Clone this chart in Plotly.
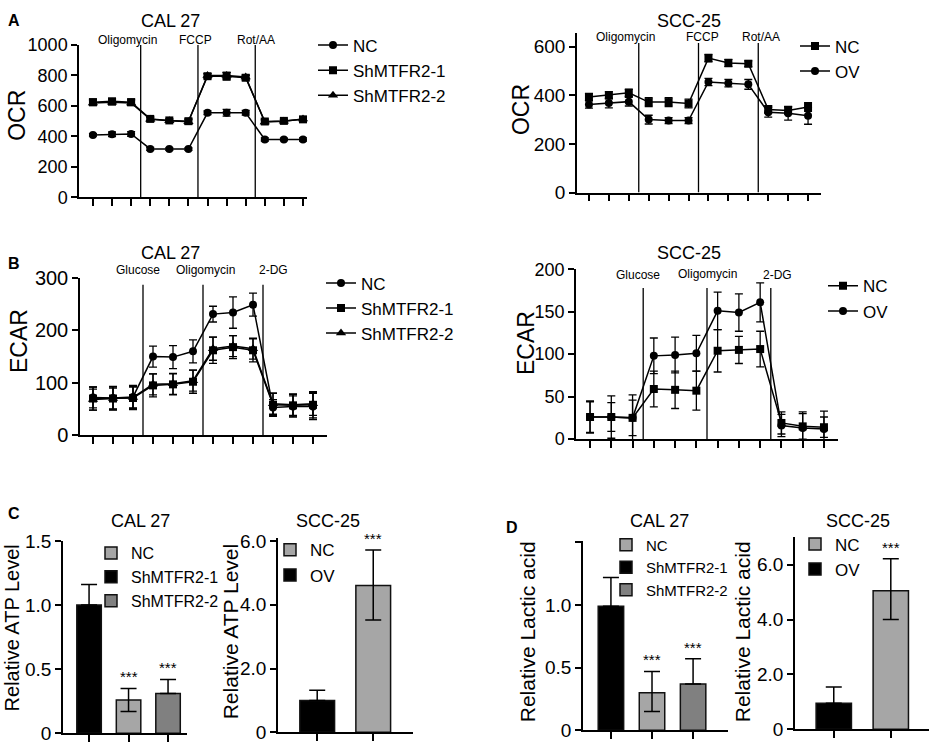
import plotly.graph_objects as go

W, H = 929, 752
FONT = "Arial, 'Liberation Sans', sans-serif"

# ---------------- data ----------------
timepoints = list(range(1, 13))
injections = [3.5, 6.5, 9.5]

ocr_cal_nc = [410, 414, 416, 318, 317, 317, 555, 555, 555, 380, 380, 380]
ocr_cal_nc_err = [8, 15, 15, 10, 8, 8, 12, 22, 15, 10, 8, 10]
ocr_cal_sh1 = [625, 630, 625, 515, 505, 500, 795, 795, 785, 498, 502, 512]
ocr_cal_sh1_err = [20, 20, 20, 15, 10, 15, 15, 25, 15, 15, 12, 15]
ocr_cal_sh2 = [620, 625, 620, 512, 503, 496, 800, 800, 790, 495, 500, 515]
ocr_cal_sh2_err = [18, 18, 18, 12, 10, 15, 12, 20, 12, 12, 10, 12]
ocr_cal_drugs = ["Oligomycin", "FCCP", "Rot/AA"]

ocr_scc_nc = [393, 400, 410, 372, 372, 366, 553, 533, 530, 342, 338, 352]
ocr_scc_nc_err = [15, 15, 15, 18, 18, 18, 15, 15, 12, 15, 15, 18]
ocr_scc_ov = [362, 368, 374, 300, 296, 296, 455, 450, 445, 330, 326, 316]
ocr_scc_ov_err = [15, 20, 18, 18, 12, 12, 15, 15, 20, 20, 28, 35]

ecar_cal_nc = [72, 71, 73, 150, 149, 160, 231, 234, 249, 53, 55, 55]
ecar_cal_nc_err = [20, 22, 22, 20, 22, 22, 15, 30, 22, 15, 20, 25]
ecar_cal_sh1 = [70, 70, 71, 95, 97, 102, 162, 168, 162, 58, 57, 58]
ecar_cal_sh1_err = [22, 22, 22, 22, 20, 22, 25, 22, 22, 22, 22, 25]
ecar_cal_sh2 = [68, 70, 72, 97, 98, 104, 165, 170, 165, 60, 58, 60]
ecar_cal_sh2_err = [20, 20, 20, 20, 20, 20, 22, 20, 20, 20, 20, 22]
ecar_drugs = ["Glucose", "Oligomycin", "2-DG"]

ecar_scc_nc = [26, 26, 25, 59, 58, 57, 104, 105, 106, 19, 15, 14]
ecar_scc_nc_err = [18, 17, 21, 21, 22, 23, 25, 16, 21, 13, 15, 12]
ecar_scc_ov = [26, 26, 25, 98, 99, 101, 151, 149, 161, 16, 13, 12]
ecar_scc_ov_err = [19, 25, 27, 21, 21, 21, 22, 22, 23, 13, 19, 21]

# bars, left to right
cal_bar_groups = ["ShMTFR2-1", "NC", "ShMTFR2-2"]
cal_legend_order = ["NC", "ShMTFR2-1", "ShMTFR2-2"]
scc_bar_groups = ["OV", "NC"]
scc_legend_order = ["NC", "OV"]

atp_cal = [1.0, 0.26, 0.31]
atp_cal_err_up = [0.16, 0.09, 0.11]
atp_cal_err_dn = [0.0, 0.09, 0.0]
atp_cal_sig = ["", "***", "***"]
atp_scc = [1.0, 4.6]
atp_scc_err_up = [0.32, 1.12]
atp_scc_err_dn = [0.0, 1.08]
atp_scc_sig = ["", "***"]

lac_cal = [0.99, 0.30, 0.37]
lac_cal_err_up = [0.23, 0.17, 0.20]
lac_cal_err_dn = [0.0, 0.15, 0.0]
lac_cal_sig = ["", "***", "***"]
lac_scc = [0.95, 5.05]
lac_scc_err_up = [0.59, 1.16]
lac_scc_err_dn = [0.0, 1.05]
lac_scc_sig = ["", "***"]

# tick labels
ocr_cal_ticks = [0, 200, 400, 600, 800, 1000]
ocr_scc_ticks = [0, 200, 400, 600]
ecar_cal_ticks = [0, 100, 200, 300]
ecar_scc_ticks = [0, 50, 100, 150, 200]
atp_cal_ticks = [0, 0.5, 1.0, 1.5]
atp_cal_ticktext = ["0", "0.5", "1.0", "1.5"]
scc_bar_ticks = [0, 2, 4, 6]
scc_bar_ticktext = ["0", "2.0", "4.0", "6.0"]
lac_cal_ticks = [0, 0.5, 1.0, 1.5]
lac_cal_ticktext = ["0", "0.5", "1.0", ""]

group_colors = {"NC": "#a6a6a6", "ShMTFR2-1": "#000000", "ShMTFR2-2": "#808080", "OV": "#000000"}


def px_x(v):
    return v / W


def px_y(v):
    return 1 - v / H


fig = go.Figure()

AX = dict(showgrid=False, zeroline=False, showline=True, linecolor="black", linewidth=1.5,
          ticks="outside", tickcolor="black", tickwidth=1.5, ticklen=6)

# panel n: pixel box of the plotting area, x range, y range, y ticks, font size
panels = {
    1: dict(xp=(79, 307), yp=(35, 192), xr=[0.27, 12.21], yr=[0, 1000], tv=ocr_cal_ticks, tt=None, fs=18, xt=timepoints),
    2: dict(xp=(577, 821), yp=(23, 187), xr=[0.4, 12.65], yr=[0, 655], tv=ocr_scc_ticks, tt=None, fs=19, xt=timepoints),
    3: dict(xp=(80, 327), yp=(275, 437), xr=[0.35, 12.7], yr=[0, 300], tv=ecar_cal_ticks, tt=None, fs=20, xt=timepoints),
    4: dict(xp=(576, 838), yp=(266, 441), xr=[0.34, 12.66], yr=[0, 200], tv=ecar_scc_ticks, tt=None, fs=18, xt=timepoints),
    5: dict(xp=(63, 187), yp=(546, 744), xr=[0.34, 3.48], yr=[0, 1.5], tv=atp_cal_ticks, tt=atp_cal_ticktext, fs=19, xt=[1, 2, 3]),
    6: dict(xp=(278, 413), yp=(543, 743), xr=[0.3, 2.71], yr=[0, 6.09], tv=scc_bar_ticks, tt=scc_bar_ticktext, fs=19, xt=[1, 2]),
    7: dict(xp=(583, 728), yp=(546, 741), xr=[0.32, 3.85], yr=[0, 1.51], tv=lac_cal_ticks, tt=lac_cal_ticktext, fs=19, xt=[1, 2, 3]),
    8: dict(xp=(795, 929), yp=(542, 740), xr=[0.32, 2.67], yr=[0, 7.0], tv=scc_bar_ticks, tt=scc_bar_ticktext, fs=19, xt=[1, 2]),
}

layout_axes = {}
for n, p in panels.items():
    sfx = "" if n == 1 else str(n)
    layout_axes["xaxis" + sfx] = dict(AX, domain=[px_x(p["xp"][0]), px_x(p["xp"][1])], range=p["xr"],
                                      anchor="y" + sfx, tickvals=p["xt"], showticklabels=False, ticklen=7)
    ya = dict(AX, domain=[px_y(p["yp"][1]), px_y(p["yp"][0])], range=p["yr"], anchor="x" + sfx,
              tickvals=p["tv"], tickfont=dict(size=p["fs"], color="black", family=FONT))
    if p["tt"] is not None:
        ya["ticktext"] = p["tt"]
    layout_axes["yaxis" + sfx] = ya


def line_trace(n, name, y, err, symbol, size=8):
    sfx = "" if n == 1 else str(n)
    return go.Scatter(x=timepoints, y=y, name=name, mode="lines+markers",
                      xaxis="x" + sfx, yaxis="y" + sfx, legend="legend" + sfx,
                      line=dict(color="black", width=1.5),
                      marker=dict(symbol=symbol, size=size, color="black"),
                      error_y=dict(type="data", array=err, color="black", thickness=1.3, width=4),
                      cliponaxis=False)


fig.add_trace(line_trace(1, "NC", ocr_cal_nc, ocr_cal_nc_err, "circle"))
fig.add_trace(line_trace(1, "ShMTFR2-1", ocr_cal_sh1, ocr_cal_sh1_err, "square"))
fig.add_trace(line_trace(1, "ShMTFR2-2", ocr_cal_sh2, ocr_cal_sh2_err, "triangle-up", 9))

fig.add_trace(line_trace(2, "NC", ocr_scc_nc, ocr_scc_nc_err, "square"))
fig.add_trace(line_trace(2, "OV", ocr_scc_ov, ocr_scc_ov_err, "circle"))

fig.add_trace(line_trace(3, "NC", ecar_cal_nc, ecar_cal_nc_err, "circle"))
fig.add_trace(line_trace(3, "ShMTFR2-1", ecar_cal_sh1, ecar_cal_sh1_err, "square"))
fig.add_trace(line_trace(3, "ShMTFR2-2", ecar_cal_sh2, ecar_cal_sh2_err, "triangle-up", 9))

fig.add_trace(line_trace(4, "NC", ecar_scc_nc, ecar_scc_nc_err, "square"))
fig.add_trace(line_trace(4, "OV", ecar_scc_ov, ecar_scc_ov_err, "circle"))


def bar_traces(n, groups, order, vals, up, dn):
    sfx = "" if n == 1 else str(n)
    for g in order:
        i = groups.index(g)
        fig.add_trace(go.Bar(x=[i + 1], y=[vals[i]], name=g, width=0.62,
                             xaxis="x" + sfx, yaxis="y" + sfx, legend="legend" + sfx,
                             marker=dict(color=group_colors[g], line=dict(color="#111111", width=1.5)),
                             error_y=dict(type="data", symmetric=False, array=[up[i]], arrayminus=[dn[i]],
                                          color="black", thickness=1.5, width=8)))


bar_traces(5, cal_bar_groups, cal_legend_order, atp_cal, atp_cal_err_up, atp_cal_err_dn)
bar_traces(6, scc_bar_groups, scc_legend_order, atp_scc, atp_scc_err_up, atp_scc_err_dn)
bar_traces(7, cal_bar_groups, cal_legend_order, lac_cal, lac_cal_err_up, lac_cal_err_dn)
bar_traces(8, scc_bar_groups, scc_legend_order, lac_scc, lac_scc_err_up, lac_scc_err_dn)

# injection lines
shapes = []
for n, top in [(1, 1000), (2, 615), (3, 287), (4, 178)]:
    sfx = "" if n == 1 else str(n)
    for xi in injections:
        shapes.append(dict(type="line", xref="x" + sfx, yref="y" + sfx, x0=xi, x1=xi, y0=0, y1=top,
                           line=dict(color="black", width=1.3)))

annotations = []


def txt(x, y, s, size, bold=False, angle=0):
    annotations.append(dict(x=px_x(x), y=px_y(y), xref="paper", yref="paper", text=s, showarrow=False,
                            textangle=angle, xanchor="center", yanchor="middle",
                            font=dict(size=size, color="black", family=FONT,
                                      weight="bold" if bold else "normal")))


# panel letters
txt(14, 10, "A", 16, True)
txt(14, 260, "B", 16, True)
txt(14, 518, "C", 16, True)
txt(512, 532, "D", 16, True)

# panel titles
for x, y, s in [(170, 10, "CAL 27"), (689, 10, "SCC-25"), (170, 249, "CAL 27"), (689, 249, "SCC-25"),
                (140, 525, "CAL 27"), (328, 525, "SCC-25"), (659, 525, "CAL 27"), (858, 525, "SCC-25")]:
    txt(x, y, s, 18)

# drug labels
for (x, y), s in zip([(128, 30), (195, 30), (256, 30)], ocr_cal_drugs):
    txt(x, y, s, 12)
for (x, y), s in zip([(625, 27), (702, 27), (761, 27)], ocr_cal_drugs):
    txt(x, y, s, 12)
for (x, y), s in zip([(138, 267), (205, 267), (273, 267)], ecar_drugs):
    txt(x, y, s, 12)
for (x, y), s in zip([(638, 272), (707, 271), (777, 272)], ecar_drugs):
    txt(x, y, s, 12)

# y titles
txt(17, 108, "OCR", 23, angle=-90)
txt(521, 102, "OCR", 23, angle=-90)
txt(19, 340, "ECAR", 23, angle=-90)
txt(526, 342, "ECAR", 23, angle=-90)
txt(12, 636, "Relative ATP Level", 20, angle=-90)
txt(230, 639, "Relative ATP Level", 21, angle=-90)
txt(527, 640, "Relative Lactic acid", 21, angle=-90)
txt(742, 640, "Relative Lactic acid", 21, angle=-90)

# significance stars
for n, vals, up, sig in [(5, atp_cal, atp_cal_err_up, atp_cal_sig), (6, atp_scc, atp_scc_err_up, atp_scc_sig),
                         (7, lac_cal, lac_cal_err_up, lac_cal_sig), (8, lac_scc, lac_scc_err_up, lac_scc_sig)]:
    for i, s in enumerate(sig):
        if s:
            annotations.append(dict(x=i + 1, y=vals[i] + up[i], xref="x%d" % n, yref="y%d" % n, text=s,
                                    showarrow=False, yanchor="bottom", yshift=1,
                                    font=dict(size=15, color="black", family=FONT)))


def leg(x, ytop, size):
    return dict(x=px_x(x), y=px_y(ytop), xanchor="left", yanchor="top", bgcolor="rgba(0,0,0,0)",
                font=dict(size=size, color="black", family=FONT), itemwidth=30, tracegroupgap=0)


fig.update_layout(
    width=W, height=H, autosize=False,
    margin=dict(l=0, r=0, t=0, b=0),
    paper_bgcolor="white", plot_bgcolor="white",
    font=dict(family=FONT, color="black"),
    barmode="overlay",
    shapes=shapes,
    annotations=annotations,
    legend=leg(313, 17, 17),
    legend2=leg(795, 18, 17),
    legend3=leg(321, 262, 17),
    legend4=leg(823, 265, 17),
    legend5=leg(91, 541, 16),
    legend6=leg(270, 537, 17),
    legend7=leg(606, 533, 15),
    legend8=leg(795, 531, 17),
    **layout_axes,
)

fig.write_html("out.html", config={"displayModeBar": False},
               post_script="document.body.style.margin='0';")
